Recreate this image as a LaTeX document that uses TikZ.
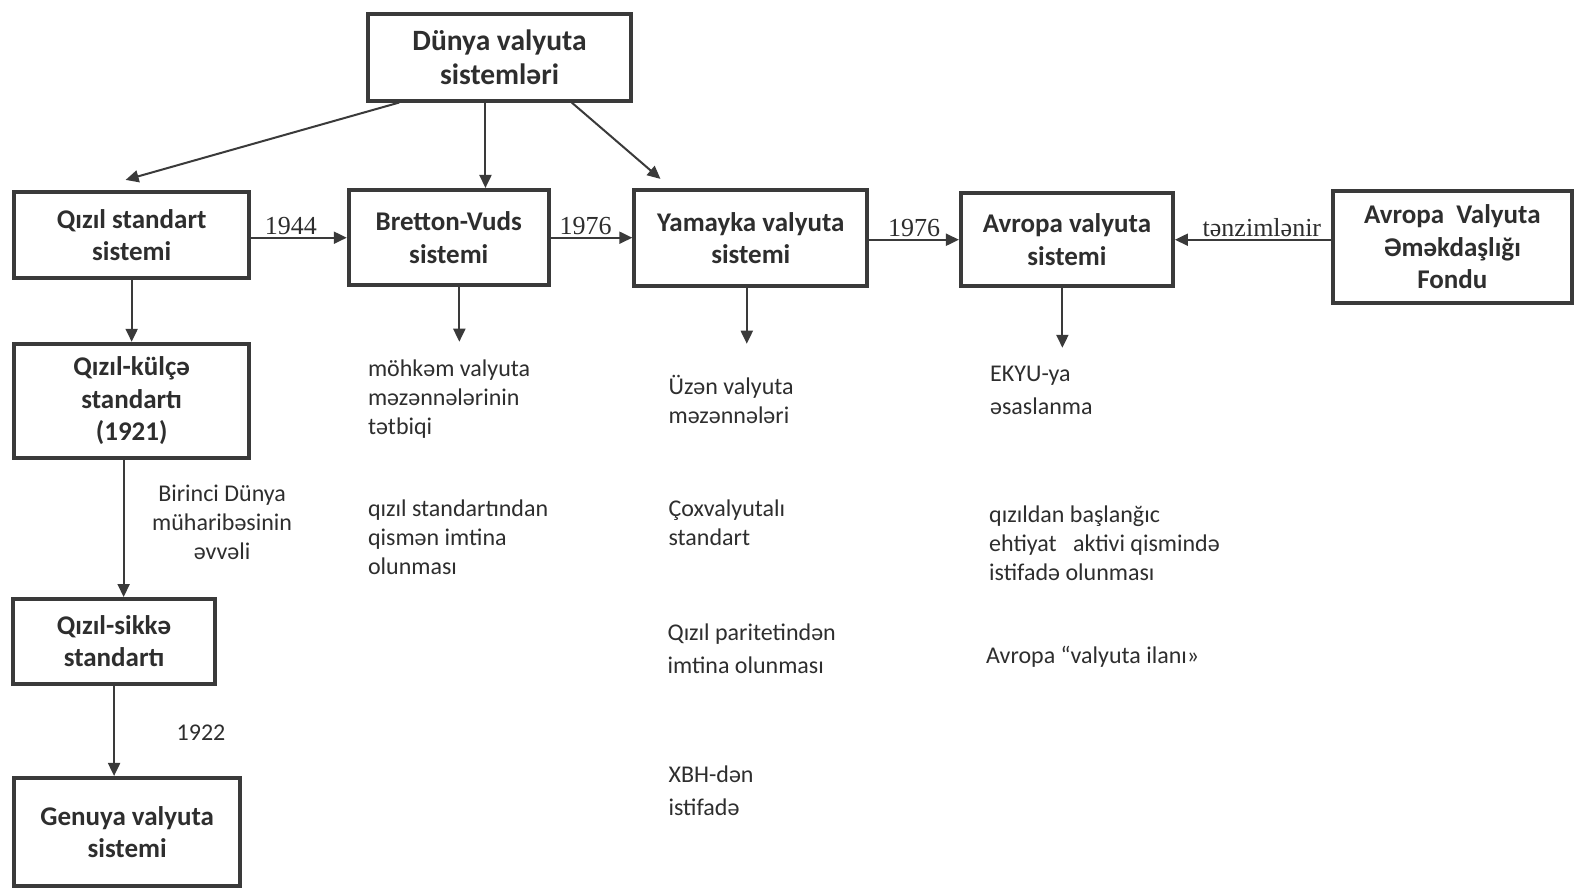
\documentclass[tikz,border=0pt]{standalone}
\usepackage{fontspec}
\setmainfont{Carlito}
\newfontfamily\serifl{Liberation Serif}
\usetikzlibrary{arrows.meta,calc}
\definecolor{ink}{HTML}{3A3A3A}
\definecolor{txt}{HTML}{2E2E2E}
\tikzset{
  box/.style={draw=ink, line width=4pt, fill=white, align=center, text=txt,
    font=\fontsize{27}{32.5}\selectfont\bfseries, inner sep=0pt},
  arr/.style={draw=ink, line width=2pt, -{Triangle[length=13pt,width=12pt]}},
  yr/.style={font=\serifl\fontsize{26}{30}\selectfont, text=txt, inner sep=2pt},
  note/.style={font=\fontsize{24}{29}\selectfont, text=txt, align=left, inner sep=0pt, anchor=base west},
  notew/.style={note, font=\fontsize{24}{33}\selectfont}
}
\begin{document}
\begin{tikzpicture}[x=1.0051pt,y=-1.0051pt]
\useasboundingbox[fill=white] (0,0) rectangle (1568,886);
% boxes
\node[box, minimum width=263pt, minimum height=86.5pt, font=\fontsize{29.5}{34}\selectfont\bfseries] (top) at (497,57) {Dünya valyuta\\sistemləri};
\node[box, minimum width=235pt, minimum height=86.5pt] (qs) at (131,234) {Qızıl standart\\sistemi};
\node[box, minimum width=200pt, minimum height=95.5pt] (bv) at (446.5,236.5) {Bretton-Vuds\\sistemi};
\node[box, minimum width=233pt, minimum height=96.5pt] (ya) at (747,237) {Yamayka valyuta\\sistemi};
\node[box, minimum width=212pt, minimum height=93.5pt] (av) at (1061.5,238.5) {Avropa valyuta\\sistemi};
\node[box, minimum width=239pt, minimum height=111.5pt] (fo) at (1445,245.5) {Avropa\ \ Valyuta\\Əməkdaşlığı\\Fondu};
\node[box, minimum width=235pt, minimum height=114.5pt] (kc) at (131,399) {Qızıl-külçə\\standartı\\(1921)};
\node[box, minimum width=202pt, minimum height=84.5pt] (sk) at (113.5,638) {Qızıl-sikkə\\standartı};
\node[box, minimum width=226pt, minimum height=108.5pt] (ge) at (126.5,828) {Genuya valyuta\\sistemi};
% top arrows
\draw[arr] ($(top.south west)+(33,0)$) -- ($(qs.north)+(-6,-10)$);
\coordinate (m1) at ($(top.south)+(-14,0)$);
\draw[arr] (m1) -- (m1 |- bv.north);
\draw[arr] ($(top.south east)+(-61,0)$) -- ($(ya.north west)+(28,-9)$);
% horizontal arrows
\draw[arr] (bv.west -| qs.east) -- (bv.west) node[yr, midway, above, xshift=-8pt] (l1) {1944};
\draw[arr] (bv.east) -- (bv.east -| ya.west) node[yr, midway, above, xshift=-6pt] (l2) {1976};
\draw[arr] (av.west -| ya.east) -- (av.west) node[yr, midway, above] (l3) {1976};
\draw[arr] (fo.west |- av.east) -- (av.east) node[yr, midway, above, xshift=9pt] (l4) {tənzimlənir};
% left column
\draw[arr] (qs.south) -- (kc.north);
\coordinate (k1) at ($(kc.south)+(-8,0)$);
\draw[arr] (k1) -- (k1 |- sk.north);
\draw[arr] (sk.south) -- (sk.south |- ge.north);
\node[font=\fontsize{24}{29}\selectfont, text=txt, align=center, inner sep=0pt] (bd) at (221,520) {Birinci Dünya\\müharibəsinin\\əvvəli};
\node[font=\fontsize{24}{29}\selectfont, text=txt, inner sep=0pt] (y22) at (200,729) {1922};
% free arrows
\coordinate (b1) at ($(bv.south)+(10.5,0)$);
\coordinate (b2) at ($(b1)+(0,54)$);
\draw[arr] (b1) -- (b2);
\coordinate (y1) at ($(ya.south)+(-4,0)$);
\coordinate (y2) at ($(y1)+(0,55)$);
\draw[arr] (y1) -- (y2);
\coordinate (a1) at ($(av.south)+(-4.5,0)$);
\coordinate (a2) at ($(a1)+(0,59)$);
\draw[arr] (a1) -- (a2);
% notes (anchor = baseline of last line)
\node[note] (t1) at (366,432) {möhkəm valyuta\\məzənnələrinin\\tətbiqi};
\node[note] (t2) at (366,572) {qızıl standartından\\qismən imtina\\olunması};
\node[note] (t3) at (665,421) {Üzən valyuta\\məzənnələri};
\node[note] (t4) at (665,543) {Çoxvalyutalı\\standart};
\node[notew] (t5) at (664,670) {Qızıl paritetindən\\imtina olunması};
\node[notew] (t6) at (665,811) {XBH-dən\\istifadə};
\node[notew] (t7) at (985,412) {EKYU-ya\\əsaslanma};
\node[note] (t8) at (984,578) {qızıldan başlanğıc\\ehtiyat\ \ \ aktivi qismində\\istifadə olunması};
\node[note] (t9) at (981,660) {Avropa “valyuta ilanı»};
\end{tikzpicture}
\end{document}
